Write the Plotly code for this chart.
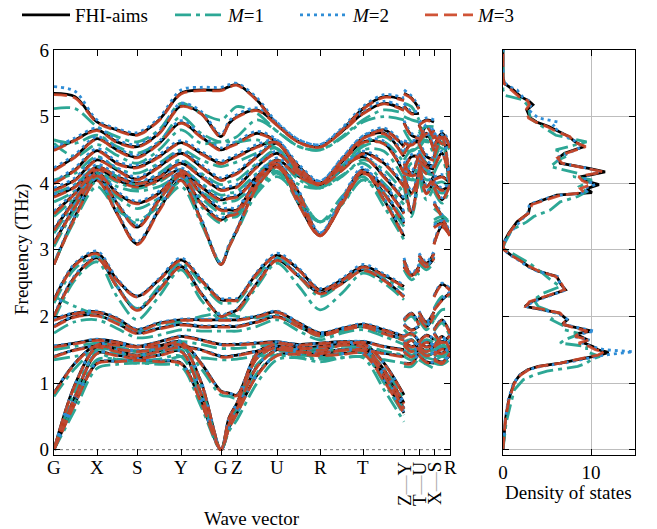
import plotly.graph_objects as go

# ---------------- data ----------------
# cumulative wave-vector path coordinates (arbitrary path units)
K_PATH = [0.00, 0.21, 0.43, 0.63, 0.83, 1.05, 1.27, 1.47, 1.67, 1.75, 1.83,
          2.03, 2.23, 2.45, 2.66, 2.88, 3.09, 3.30, 3.50]
K_YT = [3.50, 3.575, 3.65]
K_UX = [3.65, 3.725, 3.80]
K_SR = [3.80, 3.88, 3.96]
K_TICKS = [0.00, 0.43, 0.83, 1.27, 1.67, 1.83, 2.23, 2.66, 3.09, 3.50, 3.65, 3.80, 3.96]
K_LABELS = ["G", "X", "S", "Y", "G", "Z", "U", "R", "T", "Z|Y", "T|U", "X|S", "R"]

# each band: 19 values along G-X-S-Y-G-Z-U-R-T-Z, then Y-T (3), U-X (3), S-R (3)
FHI_BANDS = [
    [0.00,0.70,1.30,1.33,1.35,1.33,1.30,0.72,0.00,0.33,0.55,1.12,1.42,1.44,1.42,1.44,1.45,1.05,0.55, 1.30,1.30,1.45, 1.42,1.32,1.30, 1.35,1.32,1.42],
    [0.00,0.80,1.45,1.42,1.38,1.42,1.48,0.85,0.00,0.40,0.62,1.25,1.50,1.48,1.46,1.50,1.50,1.12,0.62, 1.48,1.40,1.50, 1.50,1.42,1.45, 1.38,1.30,1.46],
    [0.00,0.98,1.55,1.52,1.48,1.52,1.58,1.02,0.00,0.48,0.70,1.38,1.55,1.52,1.55,1.58,1.55,1.20,0.70, 1.58,1.48,1.55, 1.55,1.48,1.55, 1.48,1.45,1.55],
    [0.85,1.30,1.58,1.58,1.55,1.56,1.62,1.30,0.88,0.85,0.82,1.45,1.60,1.58,1.60,1.62,1.60,1.30,0.82, 1.62,1.55,1.60, 1.60,1.55,1.58, 1.55,1.62,1.60],
    [1.40,1.50,1.55,1.48,1.42,1.48,1.55,1.50,1.40,1.40,1.42,1.48,1.52,1.48,1.45,1.50,1.50,1.45,1.40, 1.55,1.65,1.50, 1.52,1.62,1.55, 1.42,1.52,1.45],
    [1.55,1.60,1.65,1.62,1.55,1.62,1.70,1.65,1.58,1.58,1.58,1.60,1.62,1.55,1.50,1.58,1.62,1.55,1.50, 1.70,1.75,1.62, 1.62,1.72,1.65, 1.55,1.70,1.50],
    [1.85,2.00,2.02,1.90,1.75,1.82,1.88,1.85,1.85,1.85,1.85,1.92,2.00,1.85,1.72,1.80,1.85,1.75,1.65, 1.88,1.80,1.85, 2.00,1.85,2.02, 1.75,1.62,1.72],
    [1.95,2.05,2.07,1.97,1.80,1.90,1.95,1.95,1.95,1.95,1.95,2.00,2.07,1.90,1.75,1.82,1.88,1.80,1.70, 1.95,2.05,1.88, 2.07,1.92,2.07, 1.80,1.95,1.75],
    [2.00,2.60,2.88,2.45,2.10,2.40,2.75,2.35,2.00,2.05,2.10,2.50,2.85,2.60,2.35,2.50,2.70,2.55,2.30, 2.75,2.62,2.70, 2.85,2.75,2.88, 2.10,2.25,2.35],
    [2.25,2.78,2.95,2.55,2.30,2.55,2.85,2.55,2.25,2.25,2.25,2.65,2.92,2.70,2.40,2.55,2.75,2.62,2.45, 2.85,2.62,2.75, 2.92,2.80,2.95, 2.30,2.48,2.40],
    [2.78,3.50,4.05,3.55,3.09,3.60,4.05,3.45,2.78,3.05,3.30,3.95,4.25,3.75,3.22,3.75,4.20,3.75,3.20, 4.05,3.55,4.20, 4.25,3.85,4.05, 3.09,3.35,3.22],
    [3.10,3.65,4.12,3.70,3.34,3.75,4.12,3.70,3.45,3.52,3.55,3.98,4.28,3.85,3.22,3.72,4.18,3.85,3.40, 4.12,3.85,4.18, 4.28,3.95,4.12, 3.34,3.40,3.22],
    [3.30,3.75,4.16,3.85,3.70,3.85,4.16,3.85,3.60,3.60,3.60,4.05,4.30,3.68,3.22,3.70,4.15,3.95,3.55, 4.16,4.12,4.15, 4.30,4.15,4.16, 3.70,3.50,3.22],
    [3.55,3.85,4.21,4.05,3.95,4.05,4.20,3.95,3.75,3.78,3.80,4.10,4.35,4.10,4.00,4.25,4.40,4.10,3.75, 4.20,4.40,4.40, 4.35,4.25,4.21, 3.95,3.75,4.00],
    [3.80,3.95,4.25,4.10,4.00,4.10,4.30,4.10,3.90,3.92,3.95,4.25,4.45,4.15,3.98,4.20,4.45,4.30,3.95, 4.30,4.15,4.45, 4.45,4.30,4.25, 4.00,3.90,3.98],
    [3.90,4.05,4.35,4.20,4.06,4.25,4.45,4.25,4.05,4.10,4.15,4.40,4.60,4.18,4.00,4.32,4.62,4.60,4.15, 4.45,4.60,4.62, 4.60,4.40,4.35, 4.06,4.10,4.00],
    [4.00,4.20,4.49,4.30,4.24,4.40,4.61,4.45,4.30,4.35,4.40,4.55,4.62,4.20,4.00,4.35,4.68,4.75,4.40, 4.61,4.58,4.68, 4.62,4.75,4.49, 4.24,4.45,4.00],
    [4.20,4.40,4.67,4.50,4.39,4.60,4.91,4.70,4.50,4.55,4.60,4.75,4.62,4.25,4.00,4.35,4.68,4.80,4.55, 4.91,4.72,4.68, 4.62,4.85,4.67, 4.39,4.70,4.00],
    [4.50,4.65,4.80,4.62,4.55,4.75,5.16,5.05,4.70,4.90,5.00,5.10,4.88,4.62,4.55,4.78,5.05,5.20,5.10, 5.16,5.05,5.05, 4.88,4.70,4.80, 4.55,4.75,4.55],
    [5.35,5.30,4.92,4.80,4.73,4.95,5.35,5.40,5.40,5.45,5.48,5.25,4.88,4.62,4.55,4.80,5.12,5.30,5.25, 5.35,5.28,5.12, 4.88,4.95,4.92, 4.73,4.60,4.55],
]

M1_BANDS = [
    [0.00,0.60,1.22,1.28,1.30,1.28,1.25,0.65,0.00,0.28,0.45,1.00,1.35,1.38,1.36,1.38,1.38,0.90,0.42, 1.25,1.25,1.38, 1.35,1.28,1.22, 1.30,1.28,1.36],
    [0.00,0.72,1.35,1.36,1.33,1.36,1.40,0.78,0.00,0.35,0.55,1.15,1.42,1.42,1.40,1.44,1.45,1.00,0.52, 1.40,1.35,1.45, 1.42,1.38,1.35, 1.33,1.28,1.40],
    [0.00,0.88,1.45,1.45,1.42,1.45,1.50,0.95,0.00,0.42,0.62,1.28,1.48,1.46,1.48,1.50,1.48,1.10,0.60, 1.50,1.42,1.48, 1.48,1.42,1.45, 1.42,1.40,1.48],
    [0.80,1.22,1.50,1.50,1.48,1.50,1.55,1.22,0.82,0.80,0.78,1.38,1.52,1.50,1.52,1.55,1.52,1.22,0.75, 1.55,1.50,1.52, 1.52,1.48,1.50, 1.48,1.55,1.52],
    [1.35,1.40,1.45,1.35,1.30,1.32,1.40,1.38,1.35,1.35,1.36,1.40,1.42,1.38,1.32,1.38,1.40,1.35,1.30, 1.40,1.50,1.40, 1.42,1.50,1.45, 1.30,1.40,1.32],
    [1.50,1.55,1.60,1.55,1.48,1.52,1.62,1.58,1.52,1.52,1.52,1.55,1.58,1.45,1.38,1.45,1.55,1.48,1.42, 1.62,1.65,1.55, 1.58,1.65,1.60, 1.48,1.60,1.38],
    [1.75,1.92,1.95,1.82,1.68,1.72,1.80,1.78,1.78,1.78,1.78,1.85,1.95,1.78,1.65,1.75,1.80,1.70,1.58, 1.80,1.72,1.80, 1.95,1.80,1.95, 1.68,1.55,1.65],
    [2.30,2.15,2.02,1.92,1.78,1.88,1.92,2.00,2.05,2.02,2.00,1.98,2.02,1.85,1.70,1.78,1.85,1.75,1.65, 1.92,2.00,1.85, 2.02,1.88,2.02, 1.78,1.90,1.70],
    [1.95,2.55,2.82,2.30,1.95,2.30,2.70,2.25,1.95,2.00,2.05,2.45,2.80,2.45,2.10,2.35,2.65,2.50,2.25, 2.70,2.55,2.65, 2.80,2.70,2.82, 1.95,2.10,2.10],
    [2.20,2.72,2.90,2.45,2.12,2.45,2.80,2.50,2.20,2.20,2.22,2.60,2.88,2.60,2.30,2.50,2.70,2.58,2.40, 2.80,2.58,2.70, 2.88,2.75,2.90, 2.12,2.30,2.30],
    [2.80,3.45,3.95,3.60,3.45,3.65,3.95,3.40,2.80,3.05,3.28,3.85,4.10,3.80,3.42,3.80,4.10,3.65,3.15, 3.95,3.50,4.10, 4.10,3.75,3.95, 3.45,3.50,3.42],
    [3.05,3.60,4.02,3.65,3.40,3.70,4.02,3.65,3.40,3.48,3.50,3.90,4.15,3.80,3.42,3.70,4.05,3.75,3.35, 4.02,3.80,4.05, 4.15,3.88,4.02, 3.40,3.45,3.42],
    [3.25,3.70,4.08,3.80,3.62,3.78,4.08,3.78,3.55,3.55,3.55,3.95,4.18,3.70,3.42,3.68,4.05,3.85,3.45, 4.08,4.05,4.05, 4.18,4.05,4.08, 3.62,3.52,3.42],
    [3.50,3.78,4.12,3.95,3.88,3.95,4.10,3.88,3.70,3.72,3.75,4.00,4.22,3.98,3.93,4.12,4.30,4.00,3.68, 4.10,4.30,4.30, 4.22,4.15,4.12, 3.88,3.70,3.93],
    [3.72,3.88,4.15,4.02,3.92,4.02,4.20,4.00,3.82,3.85,3.88,4.15,4.35,4.05,3.93,4.10,4.35,4.20,3.85, 4.20,4.05,4.35, 4.35,4.20,4.15, 3.92,3.85,3.93],
    [3.85,3.98,4.25,4.10,3.98,4.15,4.35,4.15,3.98,4.02,4.05,4.30,4.50,4.10,3.93,4.22,4.50,4.48,4.05, 4.35,4.50,4.50, 4.50,4.30,4.25, 3.98,4.02,3.93],
    [4.05,4.15,4.40,4.22,4.15,4.30,4.50,4.35,4.25,4.28,4.32,4.45,4.52,4.12,3.93,4.25,4.55,4.62,4.30, 4.50,4.48,4.55, 4.52,4.65,4.40, 4.15,4.35,3.93],
    [4.60,4.40,4.58,4.42,4.30,4.50,4.80,4.60,4.62,4.62,4.62,4.65,4.52,4.18,3.93,4.25,4.58,4.70,4.45, 4.80,4.62,4.58, 4.52,4.75,4.58, 4.30,4.60,3.93],
    [4.65,4.60,4.72,4.55,4.45,4.62,5.00,4.75,4.62,4.65,4.70,4.95,4.78,4.55,4.50,4.68,4.92,5.00,4.95, 5.00,4.95,4.92, 4.78,4.62,4.72, 4.45,4.62,4.50],
    [5.12,5.12,4.85,4.70,4.62,4.80,5.20,5.05,4.95,5.05,5.15,5.05,4.78,4.55,4.50,4.70,4.95,5.10,5.05, 5.20,5.15,4.95, 4.78,4.85,4.85, 4.62,4.52,4.50],
]

M2_BANDS = [
    [0.00,0.70,1.31,1.33,1.35,1.34,1.30,0.73,0.00,0.33,0.55,1.12,1.42,1.44,1.43,1.44,1.45,1.05,0.56, 1.30,1.31,1.45, 1.42,1.33,1.31, 1.35,1.32,1.43],
    [0.00,0.81,1.46,1.42,1.38,1.42,1.48,0.86,0.00,0.40,0.63,1.25,1.50,1.49,1.46,1.50,1.51,1.12,0.62, 1.48,1.40,1.51, 1.50,1.42,1.46, 1.38,1.31,1.46],
    [0.00,0.98,1.56,1.52,1.49,1.52,1.58,1.03,0.00,0.48,0.70,1.38,1.56,1.52,1.55,1.58,1.56,1.20,0.70, 1.58,1.48,1.56, 1.56,1.48,1.56, 1.49,1.45,1.55],
    [0.86,1.30,1.58,1.59,1.55,1.56,1.63,1.31,0.88,0.85,0.83,1.45,1.61,1.58,1.60,1.62,1.61,1.30,0.82, 1.63,1.55,1.61, 1.61,1.55,1.58, 1.55,1.62,1.60],
    [1.40,1.50,1.56,1.48,1.42,1.48,1.55,1.50,1.41,1.40,1.42,1.48,1.53,1.48,1.45,1.50,1.50,1.45,1.40, 1.55,1.65,1.50, 1.53,1.62,1.56, 1.42,1.52,1.45],
    [1.56,1.60,1.66,1.62,1.56,1.62,1.71,1.65,1.58,1.58,1.59,1.61,1.62,1.56,1.50,1.58,1.63,1.55,1.50, 1.71,1.75,1.63, 1.62,1.72,1.66, 1.56,1.70,1.50],
    [1.86,2.01,2.03,1.90,1.76,1.83,1.89,1.86,1.86,1.86,1.86,1.93,2.01,1.86,1.73,1.81,1.86,1.76,1.66, 1.89,1.80,1.86, 2.01,1.86,2.03, 1.76,1.63,1.73],
    [1.96,2.06,2.08,1.98,1.81,1.91,1.96,1.96,1.96,1.96,1.96,2.01,2.08,1.91,1.76,1.83,1.89,1.81,1.71, 1.96,2.05,1.89, 2.08,1.92,2.08, 1.81,1.95,1.76],
    [2.02,2.62,2.90,2.46,2.11,2.41,2.77,2.36,2.02,2.06,2.11,2.51,2.87,2.62,2.37,2.52,2.72,2.56,2.31, 2.77,2.63,2.72, 2.87,2.76,2.90, 2.11,2.26,2.37],
    [2.27,2.80,2.98,2.57,2.31,2.57,2.88,2.57,2.27,2.27,2.27,2.67,2.95,2.72,2.42,2.57,2.78,2.64,2.47, 2.88,2.64,2.78, 2.95,2.82,2.98, 2.31,2.50,2.42],
    [2.80,3.52,4.08,3.57,3.12,3.62,4.08,3.48,2.80,3.08,3.32,3.98,4.28,3.78,3.25,3.78,4.24,3.78,3.22, 4.08,3.58,4.24, 4.28,3.88,4.08, 3.12,3.38,3.25],
    [3.12,3.68,4.15,3.72,3.37,3.78,4.15,3.72,3.48,3.55,3.58,4.01,4.31,3.88,3.25,3.75,4.21,3.88,3.42, 4.15,3.88,4.21, 4.31,3.98,4.15, 3.37,3.43,3.25],
    [3.32,3.78,4.19,3.88,3.73,3.88,4.19,3.88,3.63,3.63,3.63,4.08,4.33,3.70,3.25,3.73,4.18,3.98,3.58, 4.19,4.15,4.18, 4.33,4.18,4.19, 3.73,3.53,3.25],
    [3.58,3.88,4.24,4.08,3.98,4.08,4.23,3.98,3.78,3.81,3.83,4.13,4.38,4.13,4.03,4.28,4.43,4.13,3.78, 4.23,4.43,4.43, 4.38,4.28,4.24, 3.98,3.78,4.03],
    [3.83,3.98,4.28,4.13,4.03,4.13,4.33,4.13,3.93,3.95,3.98,4.28,4.48,4.18,4.01,4.23,4.48,4.33,3.98, 4.33,4.18,4.48, 4.48,4.33,4.28, 4.03,3.93,4.01],
    [3.93,4.08,4.38,4.23,4.09,4.28,4.48,4.28,4.08,4.13,4.18,4.43,4.63,4.21,4.03,4.35,4.65,4.63,4.18, 4.48,4.63,4.65, 4.63,4.43,4.38, 4.09,4.13,4.03],
    [4.03,4.23,4.52,4.33,4.27,4.43,4.64,4.48,4.33,4.38,4.43,4.58,4.65,4.23,4.03,4.38,4.71,4.78,4.43, 4.64,4.61,4.71, 4.65,4.78,4.52, 4.27,4.48,4.03],
    [4.23,4.43,4.70,4.53,4.42,4.63,4.94,4.73,4.53,4.58,4.63,4.78,4.65,4.28,4.03,4.38,4.71,4.83,4.58, 4.94,4.75,4.71, 4.65,4.88,4.70, 4.42,4.73,4.03],
    [4.53,4.68,4.83,4.65,4.58,4.78,5.20,5.08,4.73,4.93,5.03,5.13,4.91,4.65,4.58,4.81,5.08,5.23,5.13, 5.20,5.08,5.08, 4.91,4.73,4.83, 4.58,4.78,4.58],
    [5.45,5.38,4.95,4.82,4.76,4.98,5.40,5.44,5.44,5.48,5.50,5.28,4.91,4.65,4.58,4.83,5.15,5.33,5.28, 5.40,5.31,5.15, 4.91,4.98,4.95, 4.76,4.63,4.58],
]

M3_BANDS = [
    [0.00,0.69,1.29,1.32,1.34,1.32,1.29,0.71,0.00,0.32,0.54,1.11,1.41,1.43,1.41,1.43,1.44,1.03,0.54, 1.29,1.29,1.44, 1.41,1.31,1.29, 1.34,1.31,1.41],
    [0.00,0.79,1.44,1.41,1.37,1.41,1.47,0.84,0.00,0.39,0.61,1.24,1.49,1.47,1.45,1.49,1.49,1.11,0.61, 1.47,1.39,1.49, 1.49,1.41,1.44, 1.37,1.29,1.45],
    [0.00,0.97,1.54,1.51,1.47,1.51,1.57,1.01,0.00,0.47,0.69,1.37,1.54,1.51,1.54,1.57,1.54,1.19,0.69, 1.57,1.47,1.54, 1.54,1.47,1.54, 1.47,1.44,1.54],
    [0.84,1.29,1.57,1.57,1.54,1.55,1.61,1.29,0.87,0.84,0.81,1.44,1.59,1.57,1.59,1.61,1.59,1.29,0.81, 1.61,1.54,1.59, 1.59,1.54,1.57, 1.54,1.61,1.59],
    [1.39,1.49,1.54,1.47,1.41,1.47,1.54,1.49,1.39,1.39,1.41,1.47,1.51,1.47,1.44,1.49,1.49,1.44,1.39, 1.54,1.64,1.49, 1.51,1.61,1.54, 1.41,1.51,1.44],
    [1.54,1.59,1.64,1.61,1.54,1.61,1.69,1.64,1.57,1.57,1.57,1.59,1.61,1.54,1.49,1.57,1.61,1.54,1.49, 1.69,1.74,1.61, 1.61,1.71,1.64, 1.54,1.69,1.49],
    [1.84,1.99,2.01,1.89,1.74,1.81,1.87,1.84,1.84,1.84,1.84,1.91,1.99,1.84,1.71,1.79,1.84,1.74,1.64, 1.87,1.79,1.84, 1.99,1.84,2.01, 1.74,1.61,1.71],
    [1.94,2.04,2.06,1.96,1.79,1.89,1.94,1.94,1.94,1.94,1.94,1.99,2.06,1.89,1.74,1.81,1.87,1.79,1.69, 1.94,2.04,1.87, 2.06,1.91,2.06, 1.79,1.94,1.74],
    [2.00,2.59,2.87,2.44,2.09,2.39,2.74,2.34,2.00,2.04,2.09,2.49,2.84,2.59,2.34,2.49,2.69,2.54,2.29, 2.74,2.61,2.69, 2.84,2.74,2.87, 2.09,2.24,2.34],
    [2.24,2.77,2.94,2.54,2.29,2.54,2.84,2.54,2.24,2.24,2.24,2.64,2.91,2.69,2.39,2.54,2.74,2.61,2.44, 2.84,2.61,2.74, 2.91,2.79,2.94, 2.29,2.47,2.39],
    [2.78,3.48,4.04,3.54,3.08,3.58,4.04,3.44,2.78,3.04,3.29,3.94,4.24,3.74,3.21,3.74,4.19,3.74,3.19, 4.04,3.54,4.19, 4.24,3.84,4.04, 3.08,3.34,3.21],
    [3.09,3.64,4.11,3.69,3.33,3.74,4.11,3.69,3.44,3.51,3.54,3.97,4.27,3.84,3.21,3.71,4.17,3.84,3.39, 4.11,3.84,4.17, 4.27,3.94,4.11, 3.33,3.39,3.21],
    [3.29,3.74,4.15,3.84,3.69,3.84,4.15,3.84,3.59,3.59,3.59,4.04,4.29,3.67,3.21,3.69,4.14,3.94,3.54, 4.15,4.11,4.14, 4.29,4.14,4.15, 3.69,3.49,3.21],
    [3.54,3.84,4.20,4.04,3.94,4.04,4.19,3.94,3.74,3.77,3.79,4.09,4.34,4.09,3.99,4.24,4.39,4.09,3.74, 4.19,4.39,4.39, 4.34,4.24,4.20, 3.94,3.74,3.99],
    [3.79,3.94,4.24,4.09,3.99,4.09,4.29,4.09,3.89,3.91,3.94,4.24,4.44,4.14,3.97,4.19,4.44,4.29,3.94, 4.29,4.14,4.44, 4.44,4.29,4.24, 3.99,3.89,3.97],
    [3.89,4.04,4.34,4.19,4.05,4.24,4.44,4.24,4.04,4.09,4.14,4.39,4.59,4.17,3.99,4.31,4.61,4.59,4.14, 4.44,4.59,4.61, 4.59,4.39,4.34, 4.05,4.09,3.99],
    [3.99,4.19,4.48,4.29,4.23,4.39,4.60,4.44,4.29,4.34,4.39,4.54,4.61,4.19,3.99,4.34,4.67,4.74,4.39, 4.60,4.57,4.67, 4.61,4.74,4.48, 4.23,4.44,3.99],
    [4.19,4.39,4.66,4.49,4.38,4.59,4.90,4.69,4.49,4.54,4.59,4.74,4.61,4.24,3.99,4.34,4.67,4.79,4.54, 4.90,4.71,4.67, 4.61,4.84,4.66, 4.38,4.69,3.99],
    [4.49,4.64,4.79,4.61,4.54,4.74,5.15,5.04,4.69,4.89,4.99,5.09,4.87,4.61,4.54,4.77,5.04,5.19,5.09, 5.15,5.04,5.04, 4.87,4.69,4.79, 4.54,4.74,4.54],
    [5.33,5.28,4.91,4.79,4.72,4.94,5.34,5.39,5.39,5.44,5.47,5.24,4.87,4.61,4.54,4.79,5.11,5.29,5.24, 5.34,5.27,5.11, 4.87,4.94,4.91, 4.72,4.59,4.54],
]

# density of states: frequency (THz) and DOS values
FHI_DOS_F = [0.00,0.20,0.45,0.75,1.00,1.12,1.20,1.25,1.30,1.36,1.42,1.46,1.50,1.55,1.60,1.65,1.70,1.74,1.78,1.83,1.88,1.95,2.00,2.05,2.10,2.15,2.22,2.30,2.40,2.48,2.60,2.68,2.75,2.85,2.92,3.00,3.06,3.15,3.25,3.42,3.55,3.68,3.76,3.82,3.86,3.92,3.98,4.04,4.10,4.17,4.22,4.30,4.38,4.45,4.55,4.62,4.70,4.78,4.85,4.92,4.98,5.10,5.18,5.24,5.30,5.40,5.50,5.60,6.00]
FHI_DOS_D = [0.00,0.10,0.27,0.65,1.25,1.90,2.80,4.00,6.50,8.80,11.0,12.0,10.8,10.2,9.2,9.6,8.8,8.2,10.1,8.4,6.7,7.3,6.9,6.4,4.6,2.5,3.2,5.0,7.1,6.6,6.1,4.0,2.9,1.9,0.9,0.15,0.00,0.25,0.65,1.60,2.90,3.10,4.80,6.10,10.1,9.5,10.9,9.3,9.0,11.6,9.9,6.5,6.3,7.0,9.2,8.2,7.5,6.2,5.2,3.8,3.1,2.7,3.4,2.9,2.0,1.2,0.15,0.00,0.00]

M1_DOS_F = [0.00,0.20,0.40,0.70,0.90,1.05,1.12,1.18,1.25,1.30,1.35,1.40,1.47,1.55,1.60,1.65,1.70,1.75,1.80,1.85,1.95,2.05,2.10,2.15,2.25,2.35,2.45,2.55,2.65,2.80,2.95,3.02,3.10,3.30,3.42,3.50,3.60,3.72,3.80,3.87,3.95,4.05,4.10,4.15,4.25,4.35,4.42,4.50,4.62,4.72,4.85,4.97,5.05,5.15,5.25,5.32,5.40,6.00]
M1_DOS_D = [0.00,0.15,0.35,0.90,1.30,2.30,3.50,5.00,8.50,9.50,10.0,11.0,9.5,9.5,6.5,7.0,8.0,8.5,7.0,7.0,5.5,6.0,5.0,4.0,3.5,4.6,6.5,5.4,4.5,3.0,1.0,0.00,0.20,1.00,2.70,3.50,5.40,6.50,8.50,9.50,8.70,10.1,8.0,8.5,5.4,6.3,7.5,6.0,9.5,6.0,4.5,3.1,3.0,2.9,2.3,0.20,0.00,0.00]

M2_DOS_F = [0.00,0.20,0.45,0.75,1.00,1.12,1.20,1.25,1.30,1.36,1.42,1.47,1.50,1.55,1.60,1.65,1.70,1.74,1.78,1.83,1.88,1.95,2.00,2.05,2.10,2.15,2.22,2.30,2.40,2.48,2.60,2.68,2.75,2.85,2.92,3.00,3.06,3.15,3.25,3.42,3.55,3.68,3.76,3.82,3.86,3.92,3.98,4.04,4.10,4.17,4.22,4.30,4.38,4.45,4.55,4.62,4.70,4.78,4.85,4.92,4.98,5.10,5.18,5.24,5.30,5.40,5.46,5.52,5.60,6.00]
M2_DOS_D = [0.00,0.10,0.25,0.60,1.20,1.90,2.90,4.30,7.00,9.20,11.5,14.8,11.5,10.0,9.0,9.8,8.0,9.0,10.4,8.6,7.0,7.4,6.8,6.2,4.4,2.6,3.4,5.2,7.2,6.5,6.2,3.9,2.8,1.7,0.8,0.10,0.00,0.30,0.80,1.90,2.80,3.00,4.60,6.30,9.60,9.20,10.5,9.40,9.20,11.0,9.80,6.60,6.00,7.40,9.00,8.40,7.20,6.40,5.60,6.20,4.00,2.90,3.20,2.90,2.20,1.60,0.60,0.10,0.00,0.00]

M3_DOS_F = [0.00,0.20,0.45,0.75,1.00,1.12,1.20,1.25,1.30,1.36,1.42,1.47,1.50,1.55,1.60,1.65,1.70,1.74,1.78,1.83,1.88,1.95,2.00,2.05,2.10,2.15,2.22,2.30,2.40,2.48,2.60,2.68,2.75,2.85,2.92,3.00,3.06,3.15,3.25,3.42,3.55,3.68,3.76,3.82,3.86,3.92,3.98,4.04,4.10,4.17,4.22,4.30,4.38,4.45,4.55,4.62,4.70,4.78,4.85,4.92,4.98,5.10,5.18,5.24,5.30,5.40,5.50,5.60,6.00]
M3_DOS_D = [0.00,0.10,0.28,0.68,1.30,2.00,2.90,4.10,6.60,8.60,10.8,11.5,10.5,9.8,8.6,9.8,8.2,8.6,9.6,8.1,6.9,7.0,6.8,6.5,4.8,2.6,3.0,4.8,7.0,6.7,6.0,4.1,3.0,1.8,0.9,0.15,0.00,0.30,0.70,1.60,2.90,3.30,5.00,6.50,9.20,8.80,10.0,9.00,8.60,11.4,9.60,6.70,6.20,7.20,9.40,8.00,7.60,6.00,5.00,3.70,2.90,2.60,3.00,2.80,1.80,1.00,0.10,0.00,0.00]

FREQ_TICKS = [0, 1, 2, 3, 4, 5, 6]
DOS_TICKS = [0, 10]

# ---------------- figure ----------------
W, H = 657, 529
FONT = "Liberation Serif, Times New Roman, serif"
FS = 19


def fx(p):
    return p / W


def fy(p):
    return 1 - p / H


MODELS = [
    ("FHI-aims", FHI_BANDS, FHI_DOS_F, FHI_DOS_D, "#000000", "solid", 2.8, 1.0, 75),
    ("<i>M</i>=1", M1_BANDS, M1_DOS_F, M1_DOS_D, "#22a390", "16px,5px,4px,5px", 2.8, 0.95, 228),
    ("<i>M</i>=2", M2_BANDS, M2_DOS_F, M2_DOS_D, "#2f8dd6", "3px,4px", 2.8, 1.0, 353),
    ("<i>M</i>=3", M3_BANDS, M3_DOS_F, M3_DOS_D, "#cc4526", "13px,6px", 2.8, 0.92, 478),
]

fig = go.Figure()
legend_names = ["legend", "legend2", "legend3", "legend4"]
for i, (name, bands, dos_f, dos_d, color, dash, width, op, lx) in enumerate(MODELS):
    xs, ys = [], []
    for b in bands:
        xs += K_PATH + [None]
        ys += b[:19] + [None]
        for j, seg in enumerate([K_YT, K_UX, K_SR]):
            xs += seg + [None]
            ys += b[19 + 3 * j: 22 + 3 * j] + [None]
    fig.add_trace(go.Scatter(
        x=xs, y=ys, mode="lines", name=name, opacity=op,
        line=dict(color=color, width=width, dash=dash, shape="spline", smoothing=0.9),
        legend=legend_names[i], hoverinfo="skip", xaxis="x", yaxis="y"))
    fig.add_trace(go.Scatter(
        x=dos_d, y=dos_f, mode="lines", showlegend=False, opacity=op,
        line=dict(color=color, width=width, dash=dash),
        hoverinfo="skip", xaxis="x2", yaxis="y2"))

ydom = [fy(455), fy(50)]
axis_common = dict(showline=True, linecolor="black", linewidth=1.3, mirror="allticks",
                   ticks="inside", ticklen=6, tickwidth=1.2, tickcolor="black",
                   zeroline=False, automargin=False,
                   tickfont=dict(family=FONT, size=FS, color="black"))
layout = dict(
    width=W, height=H, margin=dict(l=0, r=0, t=0, b=0, autoexpand=False),
    paper_bgcolor="white", plot_bgcolor="white",
    xaxis=dict(domain=[fx(54), fx(450)], range=[0, 3.96], tickvals=K_TICKS,
               showticklabels=False, showgrid=False, anchor="y", **axis_common),
    yaxis=dict(domain=ydom, range=[-0.08, 6.0], tickvals=FREQ_TICKS, showgrid=False,
               anchor="x", **axis_common),
    xaxis2=dict(domain=[fx(503), fx(635)], range=[0, 15], tickvals=DOS_TICKS,
                showgrid=True, gridcolor="#bdbdbd", gridwidth=1.3, anchor="y2", **axis_common),
    yaxis2=dict(domain=ydom, range=[-0.08, 6.0], tickvals=FREQ_TICKS, showticklabels=False,
                showgrid=True, gridcolor="#bdbdbd", gridwidth=1.3, anchor="x2", **axis_common),
)
for i, (name, bands, dos_f, dos_d, color, dash, width, op, lx) in enumerate(MODELS):
    layout[legend_names[i]] = dict(x=fx(lx - 58), y=fy(15), xanchor="left", yanchor="middle",
                                   orientation="h", bgcolor="rgba(0,0,0,0)",
                                   font=dict(family=FONT, size=FS, color="black"),
                                   itemwidth=48)
fig.update_layout(**layout)

# zero-frequency dotted line
fig.add_shape(type="line", xref="x", yref="y", x0=0, x1=3.96, y0=0, y1=0,
              line=dict(color="#777777", width=1, dash="dot"), layer="below")

# high-symmetry point labels
for k, lab in zip(K_TICKS, K_LABELS):
    if "|" in lab:
        a, b2 = lab.split("|")
        fig.add_annotation(x=k, y=fy(484), xref="x", yref="paper", showarrow=False,
                           text=a + "<span style='color:#aaaaaa'>—</span>" + b2,
                           textangle=-90, xanchor="center", yanchor="middle",
                           font=dict(family=FONT, size=FS, color="black"))
    else:
        fig.add_annotation(x=k, y=fy(467), xref="x", yref="paper", showarrow=False,
                           text=lab, xanchor="center", yanchor="middle",
                           font=dict(family=FONT, size=FS, color="black"))

fig.add_annotation(x=fx(252), y=fy(518), xref="paper", yref="paper", showarrow=False,
                   text="Wave vector", xanchor="center", yanchor="middle",
                   font=dict(family=FONT, size=FS, color="black"))
fig.add_annotation(x=fx(568), y=fy(492), xref="paper", yref="paper", showarrow=False,
                   text="Density of states", xanchor="center", yanchor="middle",
                   font=dict(family=FONT, size=FS, color="black"))
fig.add_annotation(x=fx(22), y=fy(250), xref="paper", yref="paper", showarrow=False,
                   text="Frequency (THz)", textangle=-90, xanchor="center", yanchor="middle",
                   font=dict(family=FONT, size=FS, color="black"))

fig.write_html("out.html", config={"displayModeBar": False},
               post_script="document.body.style.margin='0';document.body.style.overflow='hidden';")
